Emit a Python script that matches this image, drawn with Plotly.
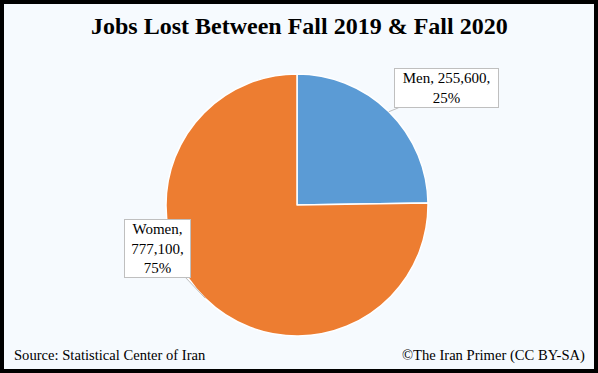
import math
import plotly.graph_objects as go

categories = ["Men", "Women"]
values = [255600, 777100]
label_texts = ["Men, 255,600,<br>25%", "Women,<br>777,100,<br>75%"]
colors = ["#5b9bd5", "#ed7d31"]

W, H = 598, 373
cx, cy, r = 297, 205, 131

fig = go.Figure(go.Pie(
    labels=categories, values=values, sort=False, direction="clockwise",
    rotation=0, textinfo="none", hoverinfo="label+value+percent",
    marker=dict(colors=colors, line=dict(color="white", width=1.5)),
    domain=dict(x=[(cx - r) / W, (cx + r) / W], y=[1 - (cy + r) / H, 1 - (cy - r) / H]),
    showlegend=False,
))

# label positions: tip at slice mid-angle on the rim
total = sum(values)
offsets = [(57.5, -23.5), (-47.5, -50)]
widths = [101, 63]
cum = 0
annos = []
for i, v in enumerate(values):
    mid = (cum + v / 2) / total * 2 * math.pi
    cum += v
    tx = cx + r * 0.999 * math.sin(mid)
    ty = cy - r * 0.999 * math.cos(mid)
    annos.append(dict(
        x=tx / W, y=1 - ty / H, xref="paper", yref="paper",
        text=label_texts[i], showarrow=True, arrowhead=0, arrowwidth=1,
        arrowcolor="#bfbfbf", ax=offsets[i][0], ay=offsets[i][1],
        standoff=0, bgcolor="white", bordercolor="#bfbfbf", borderwidth=1,
        borderpad=1, width=widths[i], align="center",
        font=dict(family="Liberation Serif", size=15, color="black"),
    ))

annos.append(dict(x=12 / W, y=1 - 355 / H, xref="paper", yref="paper",
                  xanchor="left", yanchor="middle", showarrow=False,
                  text="Source: Statistical Center of Iran",
                  font=dict(family="Liberation Serif", size=14.6, color="black")))
annos.append(dict(x=587 / W, y=1 - 355 / H, xref="paper", yref="paper",
                  xanchor="right", yanchor="middle", showarrow=False,
                  text="©The Iran Primer (CC BY-SA)",
                  font=dict(family="Liberation Serif", size=14.6, color="black")))
annos.append(dict(x=299 / W, y=1 - 26 / H, xref="paper", yref="paper",
                  xanchor="center", yanchor="middle", showarrow=False,
                  text="<b>Jobs Lost Between Fall 2019 &amp; Fall 2020</b>",
                  font=dict(family="Liberation Serif", size=24, color="black")))

fig.update_layout(
    width=W, height=H, margin=dict(l=0, r=0, t=0, b=0),
    paper_bgcolor="#f6fafe", plot_bgcolor="#f6fafe",
    annotations=annos,
    shapes=[dict(type="rect", xref="paper", yref="paper",
                 x0=2 / W, x1=1 - 2 / W, y0=2 / H, y1=1 - 2 / H,
                 line=dict(color="black", width=4))],
)

fig.write_html(
    "out.html",
    config={"displayModeBar": False},
    post_script="document.body.style.margin='0';document.body.style.overflow='hidden';",
)
